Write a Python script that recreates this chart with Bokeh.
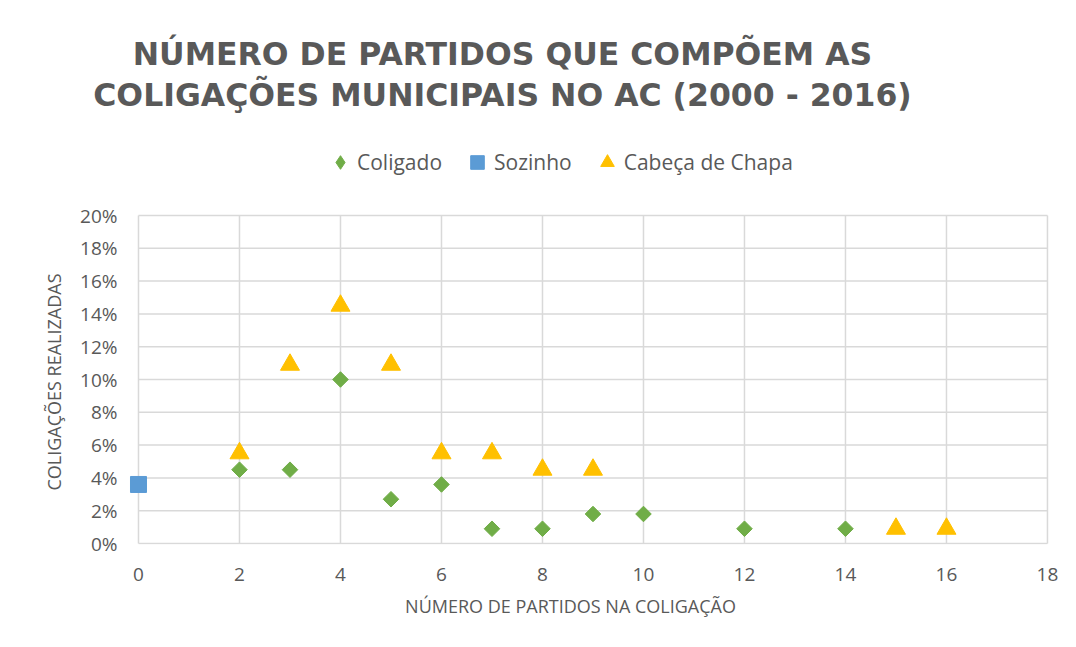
from bokeh.plotting import figure
from bokeh.models import (ColumnDataSource, Legend, LegendItem, Title, Label,
                          NumeralTickFormatter, FixedTicker, Range1d)
from bokeh.embed import file_html
from bokeh.resources import INLINE
import math

# ---- data ----
title_lines = ["NÚMERO DE PARTIDOS QUE COMPÕEM AS",
               "COLIGAÇÕES MUNICIPAIS NO AC (2000 - 2016)"]
x_label = "NÚMERO DE PARTIDOS NA COLIGAÇÃO"
y_label = "COLIGAÇÕES REALIZADAS"

coligado_x = [2, 3, 4, 5, 6, 7, 8, 9, 10, 12, 14]
coligado_y = [0.045, 0.045, 0.100, 0.027, 0.036, 0.009, 0.009, 0.018, 0.018, 0.009, 0.009]

sozinho_x = [0]
sozinho_y = [0.036]

cabeca_x = [2, 3, 4, 5, 6, 7, 8, 9, 15, 16]
cabeca_y = [0.055, 0.109, 0.145, 0.109, 0.055, 0.055, 0.045, 0.045, 0.009, 0.009]

x_ticks = [0, 2, 4, 6, 8, 10, 12, 14, 16, 18]
y_ticks = [0.00, 0.02, 0.04, 0.06, 0.08, 0.10, 0.12, 0.14, 0.16, 0.18, 0.20]

series_names = ["Coligado", "Sozinho", "Cabeça de Chapa"]
series_colors = ["#70AD47", "#5B9BD5", "#FFC000"]

TEXT = "#595959"
GRID = "#D9D9D9"

W, H = 1060, 631
# the frame also holds the title and legend area above the plotted region
p = figure(width=W, height=H, output_backend="svg", toolbar_location=None,
           x_range=Range1d(-0.9505, 18.06), y_range=Range1d(-0.0006, 0.3311),
           min_border_left=90, min_border_right=10,
           min_border_top=0, min_border_bottom=87)
p.outline_line_color = None
p.background_fill_color = "white"
p.border_fill_color = "white"
p.grid.visible = False

# grid lines limited to the plotted region
nx, ny = len(x_ticks), len(y_ticks)
p.segment(x0=x_ticks, y0=[y_ticks[0]] * nx, x1=x_ticks, y1=[y_ticks[-1]] * nx,
          line_color=GRID, line_width=1.5)
p.segment(x0=[x_ticks[0]] * ny, y0=y_ticks, x1=[x_ticks[-1]] * ny, y1=y_ticks,
          line_color=GRID, line_width=1.5)

for ax in (p.xaxis, p.yaxis):
    ax.axis_line_color = None
    ax.major_tick_line_color = None
    ax.minor_tick_line_color = None
    ax.major_label_text_color = TEXT
    ax.major_label_text_font = "Open Sans"
    ax.major_label_text_font_size = "19px"

p.xaxis.ticker = FixedTicker(ticks=x_ticks)
p.yaxis.ticker = FixedTicker(ticks=y_ticks)
p.yaxis.formatter = NumeralTickFormatter(format="0%")
p.xaxis.major_label_standoff = 17
p.yaxis.major_label_standoff = -33
p.xaxis.axis_label = x_label
p.xaxis.axis_label_text_color = TEXT
p.xaxis.axis_label_text_font = "Open Sans"
p.xaxis.axis_label_text_font_style = "normal"
p.xaxis.axis_label_text_font_size = "18px"
p.xaxis.axis_label_standoff = 10

# y-axis title, anchored at the bottom of the plotted region
p.add_layout(Title(text=y_label, align="left", offset=54, standoff=23,
                   text_font="Open Sans", text_font_style="normal",
                   text_font_size="18px", text_color=TEXT), "left")

src_c = ColumnDataSource(dict(x=coligado_x, y=coligado_y))
src_s = ColumnDataSource(dict(x=sozinho_x, y=sozinho_y))
src_h = ColumnDataSource(dict(x=cabeca_x, y=cabeca_y))

# diamond swatch for the legend; hidden underneath the rotated squares below
r_c_key = p.scatter("x", "y", source=src_c, marker="diamond", size=10,
                    fill_color=series_colors[0], line_color=series_colors[0])
r_c = p.scatter("x", "y", source=src_c, marker="square", size=11, angle=math.pi / 4,
                fill_color=series_colors[0], line_color=series_colors[0])
r_s = p.scatter("x", "y", source=src_s, marker="square", size=16,
                fill_color=series_colors[1], line_color=series_colors[1])
r_h = p.scatter("x", "y", source=src_h, marker="triangle", size=19,
                fill_color=series_colors[2], line_color=series_colors[2])

legend = Legend(items=[LegendItem(label=series_names[0], renderers=[r_c_key]),
                       LegendItem(label=series_names[1], renderers=[r_s]),
                       LegendItem(label=series_names[2], renderers=[r_h])],
                orientation="horizontal", location=(233, 365),
                label_text_font="Open Sans", label_text_font_size="21px",
                label_text_color=TEXT, glyph_width=34, glyph_height=34,
                label_standoff=-5, spacing=18, padding=0, margin=0,
                border_line_color=None, background_fill_alpha=0)
p.add_layout(legend, "center")

for txt, ys in zip(title_lines, [491, 449.5]):
    p.add_layout(Label(x=412, y=ys, x_units="screen", y_units="screen", text=txt,
                       text_align="center", text_baseline="middle",
                       text_font="DejaVu Sans", text_font_style="bold",
                       text_font_size="31.5px", text_color=TEXT))

open("out.html", "w").write(file_html(p, INLINE))
